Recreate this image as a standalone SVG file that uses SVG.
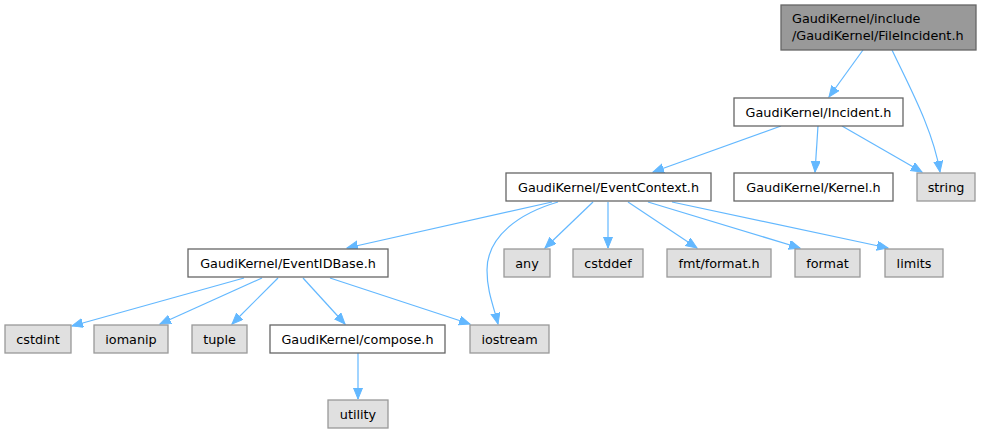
<svg xmlns="http://www.w3.org/2000/svg" width="982" height="434" viewBox="0 0 982 434">
<style>
text{font-family:"DejaVu Sans",sans-serif;font-size:12.8px;fill:#000}
.c text{text-anchor:middle}
.w rect{fill:#fff;stroke:#666;stroke-width:1.3}
.g rect{fill:#e0e0e0;stroke:#999;stroke-width:1.3}
.r rect{fill:#999;stroke:#666;stroke-width:1.3}
.e path{fill:none;stroke:#63b8ff;stroke-width:1.2;marker-end:url(#a)}
</style>
<defs>
<marker id="a" markerUnits="userSpaceOnUse" markerWidth="12" markerHeight="10" refX="11" refY="4.5" orient="auto">
<path d="M0,0 L11,4.5 L0,9 z" fill="#63b8ff" stroke="#63b8ff"/>
</marker>
</defs>
<rect width="982" height="434" fill="#fff"/>
<g class="e" id="edges">
<path d="M863,50 L829,97"/>
<path d="M892,50 C910,88 933,130 940,172"/>
<path d="M781,126 L653,172"/>
<path d="M818,126 L815,172"/>
<path d="M842,126 L922,172"/>
<path d="M552,202 L347,248"/>
<path d="M558,202 C520,213 487,236 487,270 C487,292 494,307 498,324"/>
<path d="M593,202 L545,248"/>
<path d="M608,202 L608,248"/>
<path d="M628,202 L697,248"/>
<path d="M648,202 L800,248"/>
<path d="M672,202 L888,248"/>
<path d="M244,278 L72,326"/>
<path d="M262,278 L160,324"/>
<path d="M278,278 L232,324"/>
<path d="M303,278 L345,324"/>
<path d="M330,278 L470,324"/>
<path d="M358,353 L358,399"/>
</g>
<g id="n_root" class="r"><rect x="781" y="5" width="195" height="45"/><text x="792" y="23">GaudiKernel/include</text><text x="792" y="40">/GaudiKernel/FileIncident.h</text></g>
<g id="n_incident" class="w c"><rect x="734" y="98" width="169" height="28"/><text x="818.5" y="116.5">GaudiKernel/Incident.h</text></g>
<g id="n_kernel" class="w c"><rect x="734" y="173" width="159" height="28"/><text x="813.5" y="191.5">GaudiKernel/Kernel.h</text></g>
<g id="n_string" class="g c"><rect x="917" y="173" width="58" height="28"/><text x="946" y="191.5">string</text></g>
<g id="n_eventcontext" class="w c"><rect x="506" y="173" width="205" height="28"/><text x="608.5" y="191.5">GaudiKernel/EventContext.h</text></g>
<g id="n_any" class="g c"><rect x="504" y="249" width="46" height="28"/><text x="527" y="267.5">any</text></g>
<g id="n_cstddef" class="g c"><rect x="573" y="249" width="70" height="28"/><text x="608" y="267.5">cstddef</text></g>
<g id="n_fmt" class="g c"><rect x="667" y="249" width="104" height="28"/><text x="719" y="267.5">fmt/format.h</text></g>
<g id="n_format" class="g c"><rect x="795" y="249" width="65" height="28"/><text x="827.5" y="267.5">format</text></g>
<g id="n_limits" class="g c"><rect x="885" y="249" width="58" height="28"/><text x="914" y="267.5">limits</text></g>
<g id="n_eventidbase" class="w c"><rect x="188" y="249" width="200" height="28"/><text x="288" y="267.5">GaudiKernel/EventIDBase.h</text></g>
<g id="n_cstdint" class="g c"><rect x="5" y="325" width="66" height="28"/><text x="38" y="343.5">cstdint</text></g>
<g id="n_iomanip" class="g c"><rect x="94" y="325" width="74" height="28"/><text x="131" y="343.5">iomanip</text></g>
<g id="n_tuple" class="g c"><rect x="192" y="325" width="55" height="28"/><text x="219.5" y="343.5">tuple</text></g>
<g id="n_compose" class="w c"><rect x="270" y="325" width="175" height="28"/><text x="357.5" y="343.5">GaudiKernel/compose.h</text></g>
<g id="n_iostream" class="g c"><rect x="470" y="325" width="79" height="28"/><text x="509.5" y="343.5">iostream</text></g>
<g id="n_utility" class="g c"><rect x="328" y="400" width="60" height="28"/><text x="358" y="418.5">utility</text></g>
</svg>
